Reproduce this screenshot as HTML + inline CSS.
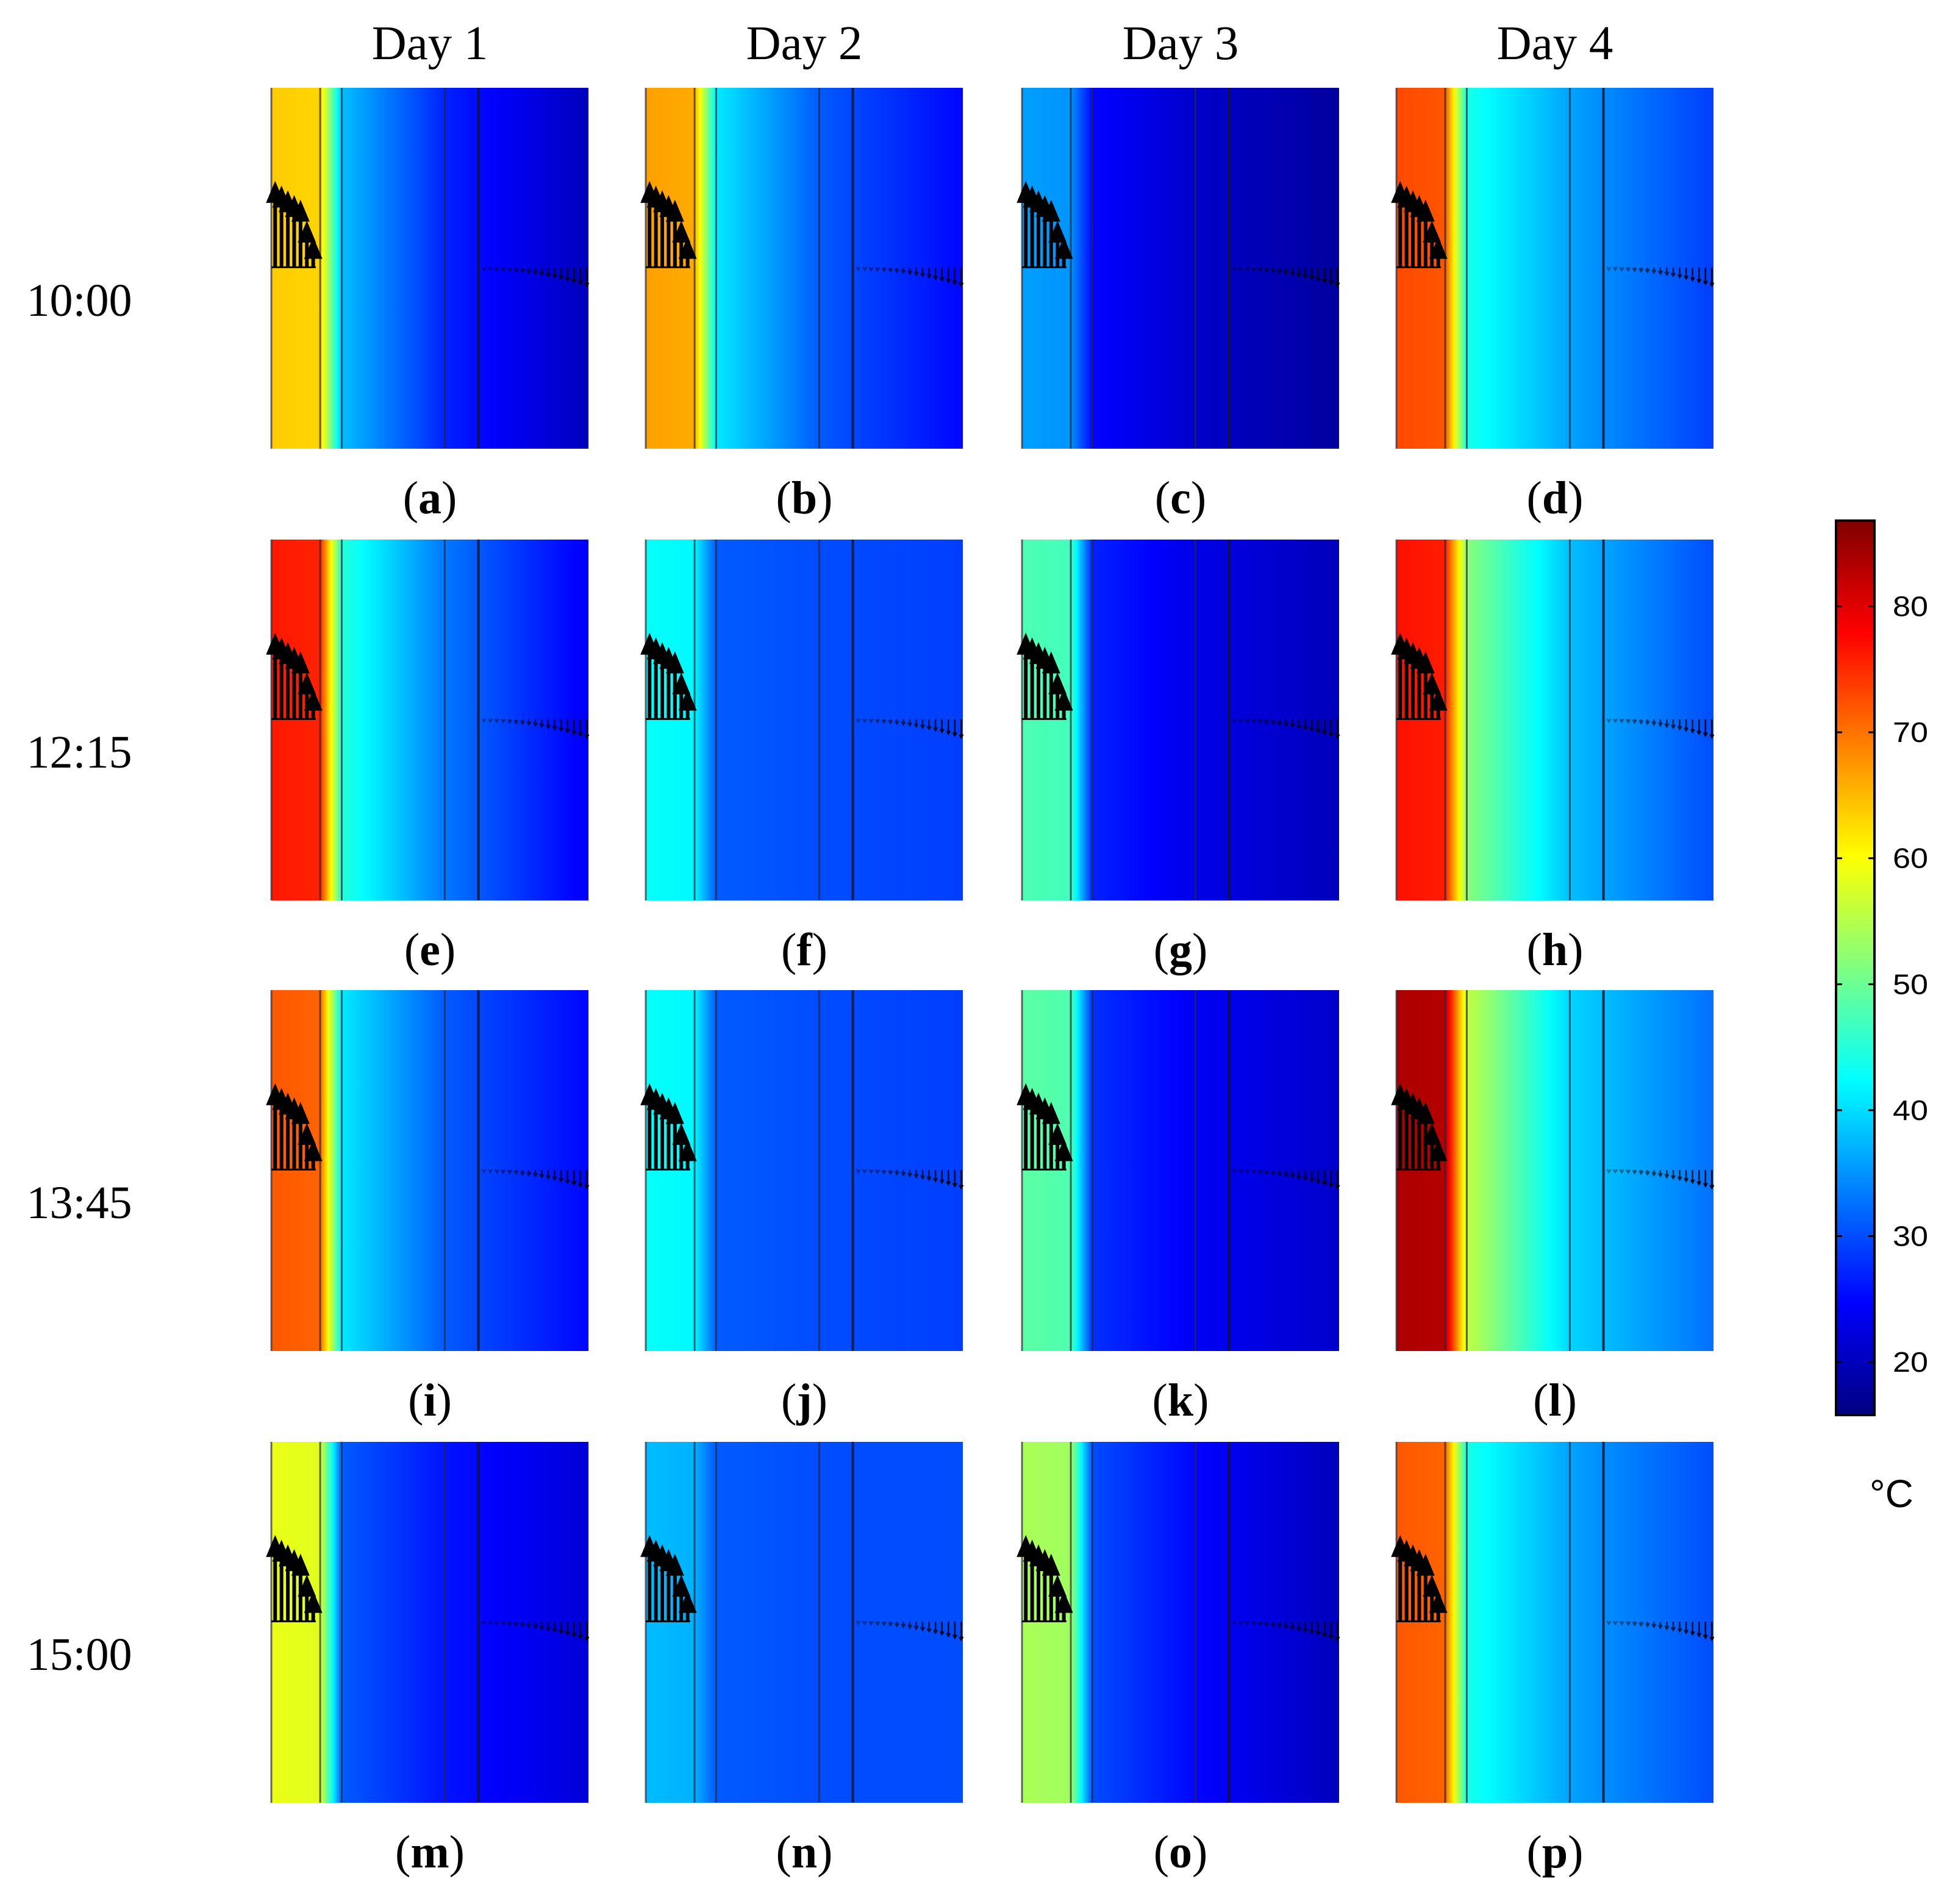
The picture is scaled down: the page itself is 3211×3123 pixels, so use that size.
<!DOCTYPE html>
<html><head><meta charset="utf-8"><style>
html,body{margin:0;padding:0;background:#fff}
svg{display:block}
text{font-family:"Liberation Serif",serif;fill:#000}
</style></head><body>
<svg id="fig" width="3211" height="3123" viewBox="0 0 3211 3123" xmlns="http://www.w3.org/2000/svg">
<defs id="defs"></defs>
</svg>
<script>
const days = ["Day 1","Day 2","Day 3","Day 4"];
const times = ["10:00","12:15","13:45","15:00"];
const panelLetters = ["a","b","c","d","e","f","g","h","i","j","k","l","m","n","o","p"];
// temperatures (°C): left strip, just after interface, at inner line, right edge
const stripTemps = [63,66,35,72, 75.5,42,47,76, 71,42,48,83, 58,37,53.5,71];
const afterTemps = [38,41,25,44, 45,31,27,52, 41,31,28,56, 31,31,30,44];
const midTemps   = [27,31,21,36, 33,30,23,38, 31,30,24,39.5, 26,30,25,36];
const endTemps   = [20,25,18,29, 24,29,20,30, 25,29,21,32.5, 22,30,20,30];
const colorbarTicks = [20,30,40,50,60,70,80];
const cbMin = 15.8, cbMax = 86.8;

const NS="http://www.w3.org/2000/svg";
const svg=document.getElementById('fig'), defs=document.getElementById('defs');
function el(t,a,p){const e=document.createElementNS(NS,t);for(const k in a)e.setAttribute(k,a[k]);(p||svg).appendChild(e);return e;}
function cl(x){return Math.max(0,Math.min(1,x));}
function jet(T){const v=cl((T-cbMin)/(cbMax-cbMin));
 const r=cl(1.5-Math.abs(4*v-3)),g=cl(1.5-Math.abs(4*v-2)),b=cl(1.5-Math.abs(4*v-1));
 return `rgb(${Math.round(r*255)},${Math.round(g*255)},${Math.round(b*255)})`;}

const colX=[445,1059,1676,2290], rowY=[144,885,1624,2365], PW=520, PH=592;
const fS=0.154, fA=0.222, fM=0.547, fN=0.653;

days.forEach((d,c)=>{const t=el('text',{x:colX[c]+PW/2,y:97,'font-size':79,'text-anchor':'middle'});
 t.textContent=d;});
times.forEach((tm,r)=>{const t=el('text',{x:130,y:rowY[r]+374,'font-size':76,'text-anchor':'middle'});
 t.textContent=tm;});

for(let i=0;i<16;i++){
 const r=Math.floor(i/4),c=i%4,x0=colX[c],y0=rowY[r];
 const Ts=stripTemps[i],Ta=afterTemps[i],Tm=midTemps[i],Te=endTemps[i];
 const g=el('linearGradient',{id:'g'+i,x1:0,y1:0,x2:1,y2:0},defs);
 const stops=[];
 stops.push([0,Ts+0.8]);stops.push([fS,Ts]);
 for(let k=1;k<=8;k++){const f=k/8;stops.push([fS+(fA-fS)*f,Ts+(Ta-Ts)*f]);}
 for(let k=1;k<=10;k++){const f=k/10;stops.push([fA+(fM-fA)*f,Ta+(Tm-Ta)*f]);}
 for(let k=1;k<=10;k++){const f=k/10;stops.push([fM+(1-fM)*f,Tm+(Te-Tm)*f]);}
 stops.forEach(s=>el('stop',{offset:s[0],'stop-color':jet(s[1])},g));
 const grp=el('g',{});
 
 
 const rc=el('rect',{x:x0,y:y0,width:PW,height:PH,fill:`url(#g${i})`},grp);
 
 
 [0,fS,fA,fM,fN].forEach((f,j)=>{const ln=el('line',{x1:x0+f*PW,x2:x0+f*PW,y1:y0,y2:y0+PH,stroke:j==4?'rgba(20,20,40,0.85)':'rgba(40,40,60,0.7)','stroke-width':j==4?4:3},grp);
  });
 // up arrows
 const base=y0+0.498*PH;
 for(let k=0;k<7;k++){const ax=x0+(0.012+k*0.02)*PW;const top=y0+(0.258+ (k<5?k*0.013:0.065+(k-4)*0.045))*PH;
  const a=el('path',{d:`M${ax-3},${base} L${ax-3},${top+36} L${ax-15},${top+36} L${ax},${top} L${ax+15},${top+36} L${ax+3},${top+36} L${ax+3},${base} Z`,fill:'#000'},grp);
  }
 el('rect',{x:x0,y:base-2,width:0.14*PW,height:3,fill:'#000'},grp);
 // down arrows
 for(let k=0;k<17;k++){const f=k/16;const ax=x0+(0.67+0.325*f)*PW;const len=4+f*f*26;
  const a=el('path',{d:`M${ax},${base} L${ax},${base+len} M${ax-3},${base+len-5} L${ax},${base+len} L${ax+3},${base+len-5}`,stroke:'rgba(0,0,0,'+(0.35+0.6*f)+')','stroke-width':2.5,fill:'none'},grp);
  }
 const lt=el('text',{x:x0+PW/2,y:y0+698,'font-size':76,'text-anchor':'middle'});
 
 lt.innerHTML=`(<tspan font-weight="bold">${panelLetters[i]}</tspan>)`;
}

// colorbar
const cbX=3011,cbW=63,cbTop=854,cbBot=2321;
function cy(T){return cbBot-(T-cbMin)/(cbMax-cbMin)*(cbBot-cbTop);}
const cg=el('linearGradient',{id:'cbg',x1:0,y1:1,x2:0,y2:0},defs);
for(let k=0;k<=40;k++){const T=cbMin+(cbMax-cbMin)*k/40;el('stop',{offset:k/40,'stop-color':jet(T)},cg);}
const cb=el('rect',{x:cbX,y:cbTop,width:cbW,height:cbBot-cbTop,fill:'url(#cbg)',stroke:'#000','stroke-width':4});

colorbarTicks.forEach(T=>{const y=cy(T);
 const t1=el('line',{x1:cbX,x2:cbX+10,y1:y,y2:y,stroke:'#000','stroke-width':3});
 
 const t2=el('line',{x1:cbX+cbW-10,x2:cbX+cbW,y1:y,y2:y,stroke:'#000','stroke-width':3});
 
 const tx=el('text',{x:3104,y:y+16,'font-size':46,textLength:58,lengthAdjust:'spacingAndGlyphs',style:'font-family:"Liberation Sans",sans-serif',fill:'#222'});
 tx.textContent=T;});
const u=el('text',{x:3066,y:2472,'font-size':64,style:'font-family:"Liberation Sans",sans-serif'});
u.textContent='°C';
</script>
</body></html>
